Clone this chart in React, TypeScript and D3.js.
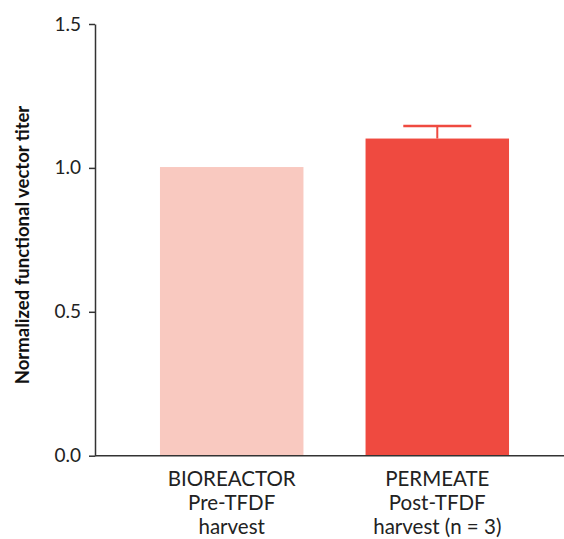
import React, { useEffect, useRef } from "react";
import * as d3 from "d3";

const W = 564;
const H = 539;

// data
const categories = ["bioreactor", "permeate"];
const labelLines = [
  ["BIOREACTOR", "Pre-TFDF", "harvest"],
  ["PERMEATE", "Post-TFDF", "harvest (n = 3)"],
];
const titerValues = [1.003, 1.102];
const titerErrors = [0, 0.044];
const barColors = ["#F9C9C0", "#EF4A40"];
const yTicks = [0, 0.5, 1.0, 1.5];

const FONT = "Lato, 'Open Sans', sans-serif";
const AXIS = "#333";

function renderChart(svgEl: SVGSVGElement) {
  const svg = d3.select(svgEl);
  svg.selectAll("*").remove();

  const x = d3.scaleBand<string>()
    .domain(categories)
    .range([95, 574])
    .paddingInner(0.302)
    .paddingOuter(0.316);

  const y = d3.scaleLinear()
    .domain([0, 1.5])
    .range([455.7, 24]);

  // bars
  svg.append("g")
    .selectAll("rect")
    .data(categories)
    .enter()
    .append("rect")
    .attr("x", d => x(d)!)
    .attr("width", x.bandwidth())
    .attr("y", (d, i) => y(titerValues[i]))
    .attr("height", (d, i) => y(0) - y(titerValues[i]))
    .attr("fill", (d, i) => barColors[i]);

  // error bars (upper only)
  const err = svg.append("g");
  categories.forEach((c, i) => {
    if (!titerErrors[i]) return;
    const cx = x(c)! + x.bandwidth() / 2;
    const top = y(titerValues[i] + titerErrors[i]);
    err.append("line")
      .attr("x1", cx).attr("x2", cx)
      .attr("y1", y(titerValues[i])).attr("y2", top)
      .attr("stroke", barColors[i]).attr("stroke-width", 2);
    err.append("line")
      .attr("x1", cx - 34).attr("x2", cx + 34)
      .attr("y1", top).attr("y2", top)
      .attr("stroke", barColors[i]).attr("stroke-width", 2.5);
  });

  // y axis
  const yAxis = svg.append("g")
    .attr("transform", "translate(95,0)")
    .call(d3.axisLeft(y).tickValues(yTicks).tickFormat(d3.format(".1f")).tickSize(6).tickSizeOuter(0));
  yAxis.select(".domain").attr("stroke", AXIS).attr("stroke-width", 1.5);
  yAxis.selectAll(".tick line").attr("stroke", AXIS).attr("stroke-width", 1.5);
  yAxis.selectAll(".tick text")
    .attr("x", -14)
    .attr("fill", "#222")
    .style("font-family", FONT)
    .style("font-size", "19px");

  // x axis line
  svg.append("line")
    .attr("x1", 95).attr("x2", W)
    .attr("y1", y(0)).attr("y2", y(0))
    .attr("stroke", AXIS).attr("stroke-width", 1.5);

  // category labels
  categories.forEach((c, i) => {
    const cx = x(c)! + x.bandwidth() / 2;
    const t = svg.append("text")
      .attr("text-anchor", "middle")
      .attr("fill", "#222")
      .style("font-family", FONT)
      .style("font-size", "20.5px");
    labelLines[i].forEach((line, j) => {
      t.append("tspan")
        .attr("x", cx)
        .attr("y", 486 + j * 23.8)
        .text(line);
    });
  });

  // y title
  svg.append("text")
    .attr("transform", `translate(28.5,245) rotate(-90)`)
    .attr("text-anchor", "middle")
    .attr("fill", "#111")
    .style("font-family", FONT)
    .style("font-weight", "bold")
    .style("font-size", "18.5px")
    .text("Normalized functional vector titer");
}

export default function App() {
  const ref = useRef<SVGSVGElement>(null);
  useEffect(() => {
    if (ref.current) renderChart(ref.current);
  }, []);
  return (
    <svg
      ref={ref}
      width={W}
      height={H}
      style={{ position: "absolute", left: 0, top: 0, background: "#fff" }}
    />
  );
}
